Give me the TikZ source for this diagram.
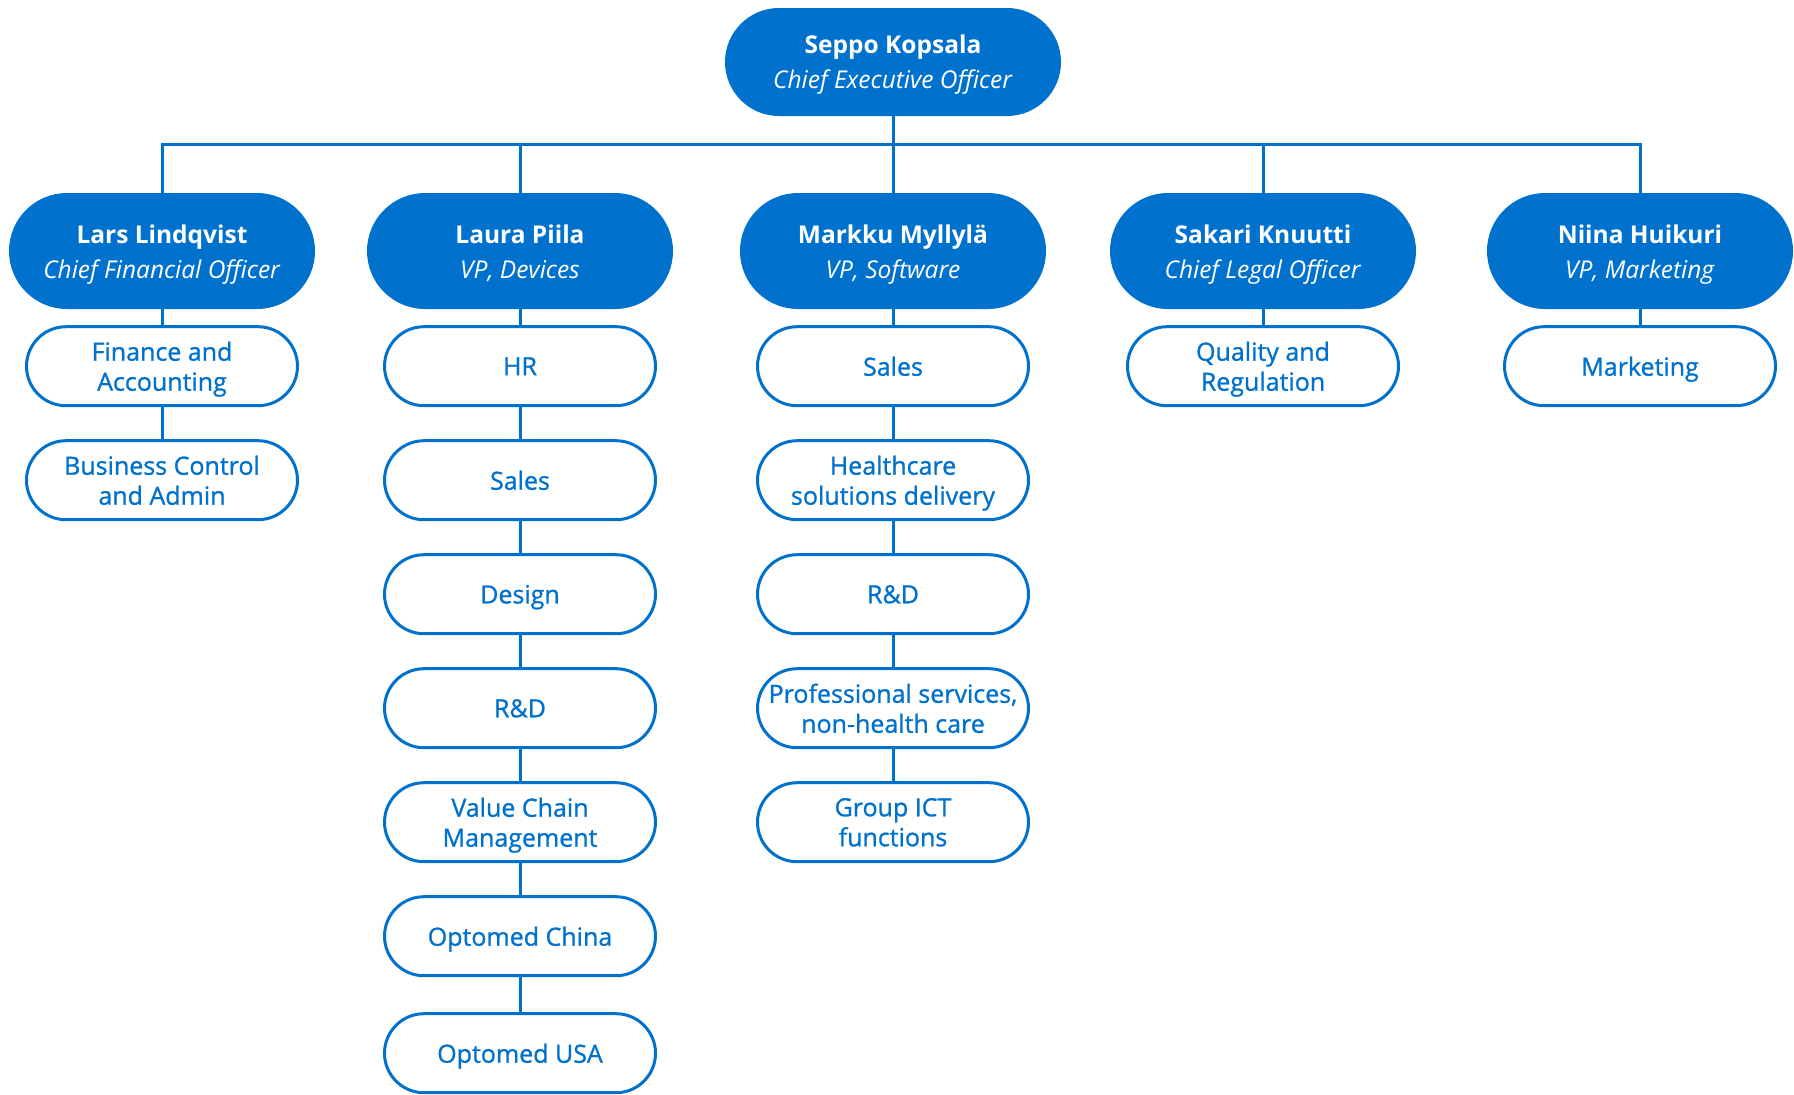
\documentclass[tikz,border=0pt]{standalone}
\usepackage{fontspec}
\setmainfont{Open Sans}
\newfontfamily\unitfont[FakeBold=1]{Open Sans}
\usetikzlibrary{positioning}
\definecolor{optoblue}{HTML}{0072CE}

\begin{document}
\begin{tikzpicture}[x=1pt, y=-1pt, node distance=32pt,
  every node/.style = {align=center, inner sep=0pt},
  chief/.style = {fill=optoblue, text=white, rounded corners=54pt,
    minimum width=336pt, minimum height=108pt, text height=52pt, text depth=0pt,
    font=\fontsize{24.5}{35}\selectfont},
  head/.style = {fill=optoblue, text=white, rounded corners=58pt,
    minimum width=306pt, minimum height=116pt, text height=55pt, text depth=0pt,
    font=\fontsize{24.5}{35}\selectfont},
  unit/.style = {draw=optoblue, line width=3pt, fill=white, text=optoblue,
    rounded corners=39.5pt, minimum width=271pt, minimum height=79pt, text depth=0pt,
    font=\unitfont\fontsize{25}{30}\selectfont},
  link/.style = {draw=optoblue, line width=3pt},
  ]
  \useasboundingbox (0,0) rectangle (1794,1095);

  \node[chief] (ceo) at (893,62) {\textbf{Seppo Kopsala}\\\textit{Chief Executive Officer}};
  \coordinate (bus) at (893,144);

  \node[head] (lars)   at (162,251)  {\textbf{Lars Lindqvist}\\\textit{Chief Financial Officer}};
  \node[head] (laura)  at (520,251)  {\textbf{Laura Piila}\\\textit{VP, Devices}};
  \node[head] (markku) at (893,251)  {\textbf{Markku Myllylä}\\\textit{VP, Software}};
  \node[head] (sakari) at (1263,251) {\textbf{Sakari Knuutti}\\\textit{Chief Legal Officer}};
  \node[head] (niina)  at (1640,251) {\textbf{Niina Huikuri}\\\textit{VP, Marketing}};

  \node[unit, below=16pt of lars] (finance) {Finance and\\Accounting};
  \node[unit, below=of finance] (control) {Business Control\\and Admin};

  \node[unit, below=16pt of laura] (hr) {HR};
  \node[unit, below=of hr] (sales) {Sales};
  \node[unit, below=of sales] (design) {Design};
  \node[unit, below=of design] (rnd) {R\&D};
  \node[unit, below=of rnd] (valuechain) {Value Chain\\Management};
  \node[unit, below=of valuechain] (china) {Optomed China};
  \node[unit, below=35pt of china] (usa) {Optomed USA};

  \node[unit, below=16pt of markku] (swsales) {Sales};
  \node[unit, below=of swsales] (healthcare) {Healthcare\\solutions delivery};
  \node[unit, below=of healthcare] (swrnd) {R\&D};
  \node[unit, below=of swrnd] (services) {Professional services,\\non-health care};
  \node[unit, below=of services] (ict) {Group ICT\\functions};

  \node[unit, below=16pt of sakari] (quality) {Quality and\\Regulation};

  \node[unit, below=16pt of niina] (marketing) {Marketing};

  \draw[link] (ceo) -- (bus);
  \draw[link] (lars) -- (lars |- bus) -- (niina |- bus) -- (niina);
  \foreach \h in {laura,markku,sakari}
    \draw[link] (\h |- bus) -- (\h);
  \foreach \a/\b in {lars/finance, finance/control,
      laura/hr, hr/sales, sales/design, design/rnd, rnd/valuechain, valuechain/china, china/usa,
      markku/swsales, swsales/healthcare, healthcare/swrnd, swrnd/services, services/ict,
      sakari/quality, niina/marketing}
    \draw[link] (\a) -- (\b);
\end{tikzpicture}
\end{document}
